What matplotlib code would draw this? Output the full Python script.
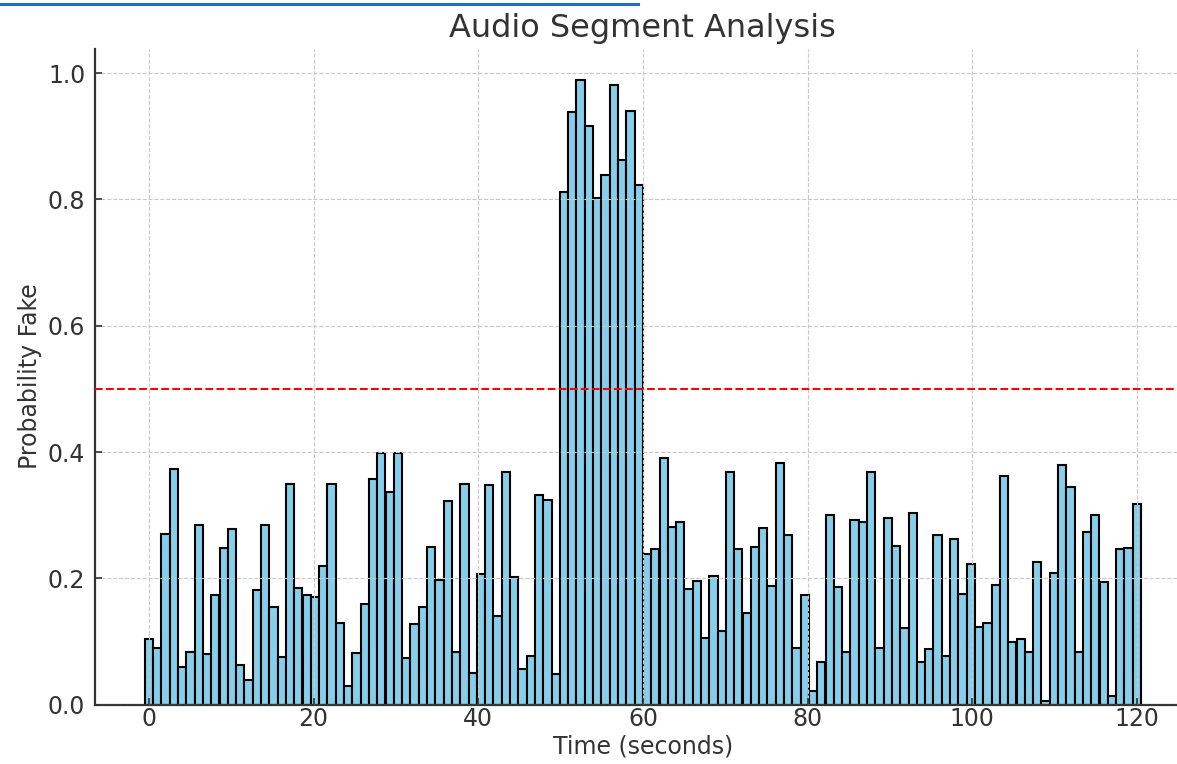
import numpy as np
import matplotlib
matplotlib.use("Agg")
import matplotlib.pyplot as plt
from matplotlib.lines import Line2D

# ---- data ----
time_start = 0
time_end = 120
prob_fake = [
    0.104, 0.089, 0.271, 0.373, 0.060, 0.084, 0.284, 0.080, 0.174, 0.248,
    0.278, 0.063, 0.039, 0.181, 0.284, 0.155, 0.076, 0.350, 0.185, 0.174,
    0.170, 0.220, 0.350, 0.129, 0.030, 0.081, 0.159, 0.358, 0.398, 0.336,
    0.398, 0.074, 0.128, 0.155, 0.249, 0.198, 0.323, 0.083, 0.349, 0.050,
    0.207, 0.348, 0.140, 0.368, 0.202, 0.056, 0.077, 0.332, 0.324, 0.048,
    0.812, 0.938, 0.989, 0.916, 0.803, 0.838, 0.982, 0.863, 0.940, 0.823,
    0.238, 0.246, 0.390, 0.281, 0.290, 0.183, 0.195, 0.105, 0.203, 0.116,
    0.369, 0.246, 0.145, 0.249, 0.280, 0.188, 0.382, 0.268, 0.089, 0.174,
    0.022, 0.068, 0.300, 0.186, 0.084, 0.293, 0.289, 0.369, 0.090, 0.296,
    0.251, 0.122, 0.304, 0.068, 0.088, 0.268, 0.077, 0.263, 0.175, 0.222,
    0.123, 0.129, 0.189, 0.362, 0.099, 0.104, 0.084, 0.226, 0.006, 0.209,
    0.379, 0.345, 0.083, 0.274, 0.301, 0.194, 0.014, 0.247, 0.248, 0.318,
]
threshold = 0.5
xticks = [0, 20, 40, 60, 80, 100, 120]
yticks = [0.0, 0.2, 0.4, 0.6, 0.8, 1.0]

times = np.linspace(time_start, time_end, len(prob_fake))

fig = plt.figure(figsize=(11.77, 7.64), dpi=100)
ax = fig.add_axes([0.0807, 0.0777, 0.931, 0.8588])

text_color = "#333333"

ax.bar(times, prob_fake, width=1.0, color="skyblue", edgecolor="black",
       linewidth=1.5, zorder=1)
ax.axhline(threshold, color="red", linestyle="--", linewidth=1.5, zorder=3)

ax.set_axisbelow(False)
ax.grid(True, color="#c8c8c8", linestyle="--", linewidth=0.8, zorder=2)

ax.set_xlim(-6.55, 126.55)
ax.set_ylim(0, 1.039)
ax.set_xticks(xticks)
ax.set_yticks(yticks)
ax.set_xticklabels([str(t) for t in xticks])
ax.set_yticklabels([f"{t:.1f}" for t in yticks])

ax.tick_params(axis="both", direction="in", length=5, width=1.2,
               colors=text_color, labelsize=17)
ax.tick_params(axis="y", pad=7)
ax.tick_params(axis="x", pad=2)
for side in ("top", "right"):
    ax.spines[side].set_visible(False)
for side in ("left", "bottom"):
    ax.spines[side].set_color(text_color)
    ax.spines[side].set_linewidth(1.6)

ax.set_title("Audio Segment Analysis", fontsize=23, color=text_color, pad=8)
ax.set_xlabel("Time (seconds)", fontsize=17, color=text_color, labelpad=2)
ax.set_ylabel("Probability Fake", fontsize=17, color=text_color, labelpad=4)

# blue underline at the very top (link line from the source screenshot)
fig.add_artist(Line2D([0.0, 638 / 1177], [1 - 4 / 764, 1 - 4 / 764],
                      color="#1f6fc5", linewidth=2.2, transform=fig.transFigure))

fig.savefig("out.png", dpi=100)
